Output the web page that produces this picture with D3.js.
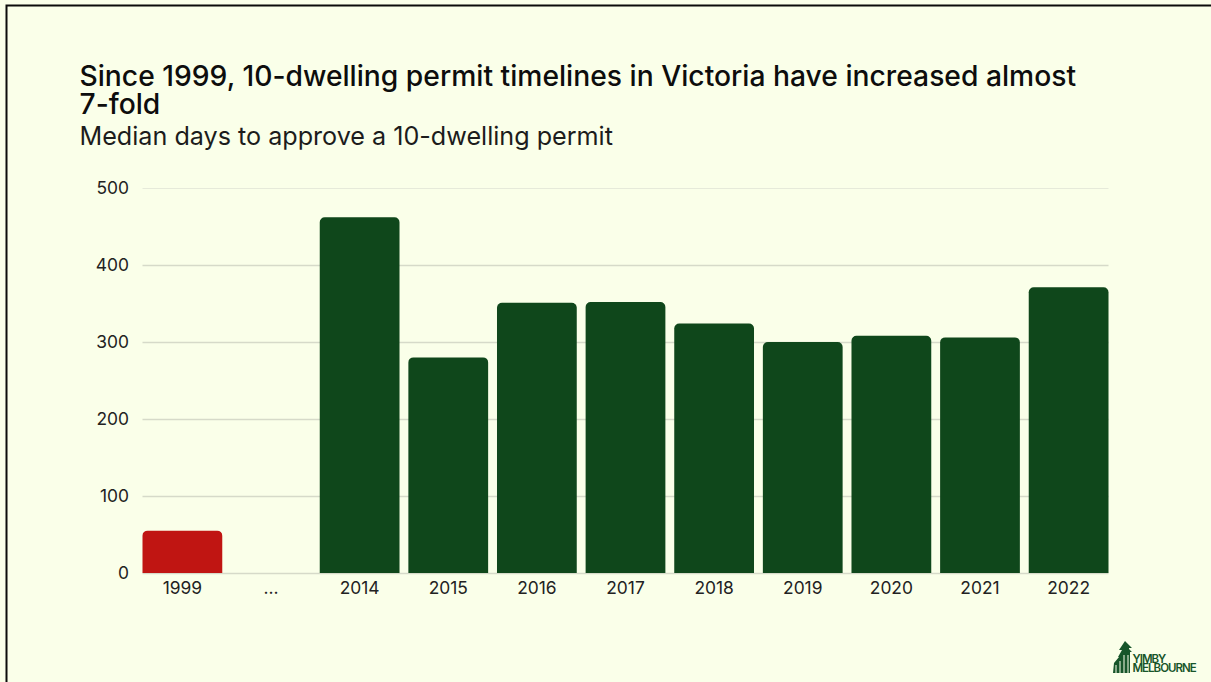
<!DOCTYPE html>
<html>
<head>
<meta charset="utf-8">
<script src="https://cdn.jsdelivr.net/npm/d3@7"></script>
<style>
html,body{margin:0;padding:0;background:#faffe9;overflow:hidden}
svg{display:block}
text{font-family:Inter,"Noto Sans",sans-serif}
</style>
</head>
<body>
<svg id="chart" width="1211" height="682"></svg>
<script>
const years = ["1999", "…", "2014", "2015", "2016", "2017", "2018", "2019", "2020", "2021", "2022"];
const medianDays = [55, null, 462, 280, 351, 352, 324, 300, 308, 306, 371];
const barColors = ["#c01512", null, "#0f471b", "#0f471b", "#0f471b", "#0f471b", "#0f471b", "#0f471b", "#0f471b", "#0f471b", "#0f471b"];
const yTicks = [0, 100, 200, 300, 400, 500];
const titleLines = ["Since 1999, 10-dwelling permit timelines in Victoria have increased almost", "7-fold"];
const subtitle = "Median days to approve a 10-dwelling permit";

const svg = d3.select("#chart");
const bounds = {left: 142.5, right: 1108.5, top: 188, bottom: 573};

const x = d3.scaleBand().domain(years).range([bounds.left, bounds.right]).paddingInner(0.1).paddingOuter(0);
const y = d3.scaleLinear().domain([0, 500]).range([bounds.bottom, bounds.top]);

// Page frame: only the top and left edges fall inside the canvas
svg.append("path")
  .attr("d", "M6.5,682V5.5H1211")
  .attr("fill", "none").attr("stroke", "#0b0b0b").attr("stroke-width", 2);

// Heading
svg.selectAll("text.title").data(titleLines).join("text")
  .attr("class", "title")
  .attr("x", 79.5).attr("y", (d, i) => 86 + i * 28)
  .attr("font-size", 28.25).attr("font-weight", 450).attr("fill", "#0d0d0d")
  .text(d => d);
svg.append("text")
  .attr("x", 79.5).attr("y", 145)
  .attr("font-size", 25.15).attr("fill", "#1c1c1c")
  .text(subtitle);

// Value axis with full-width gridlines
const yAxis = svg.append("g")
  .attr("transform", `translate(${bounds.left},0)`)
  .call(d3.axisLeft(y).tickValues(yTicks).tickSize(0).tickPadding(13.5));
yAxis.select(".domain").remove();
yAxis.selectAll("text")
  .attr("font-size", 17.4).attr("fill", "#222").style("font-family", "Inter");
yAxis.selectAll(".tick line")
  .attr("x2", bounds.right - bounds.left)
  .attr("stroke", d => d === 500 ? "#e6eada" : "#d6dac9")
  .attr("stroke-width", d => d === 500 ? 1 : 1.6);

// Bars with rounded top corners and a square base
const radius = 5;
svg.selectAll("path.bar")
  .data(years.map((year, i) => ({year, value: medianDays[i], color: barColors[i]})).filter(d => d.value !== null))
  .join("path")
  .attr("class", "bar")
  .attr("fill", d => d.color)
  .attr("d", d => {
    const p = d3.path();
    const x0 = x(d.year), x1 = x0 + x.bandwidth(), top = y(d.value), base = y(0);
    p.moveTo(x0, base);
    p.lineTo(x0, top + radius);
    p.arcTo(x0, top, x0 + radius, top, radius);
    p.lineTo(x1 - radius, top);
    p.arcTo(x1, top, x1, top + radius, radius);
    p.lineTo(x1, base);
    p.closePath();
    return p.toString();
  });

// Category axis
const xAxis = svg.append("g")
  .attr("transform", `translate(0,${bounds.bottom})`)
  .call(d3.axisBottom(x).tickSize(0).tickPadding(9));
xAxis.select(".domain").remove();
xAxis.selectAll("text")
  .attr("font-size", 17.4).attr("fill", "#222").style("font-family", "Inter");

// Organisation mark in the lower-right corner
const logo = svg.append("g").attr("transform", "translate(1113,641)").attr("fill", "#17552a");
logo.append("path").attr("d",
  "M12,0L19,7H16V8L19,11H17V32H0L1,22L6,16H5L9,9H6Z");
logo.append("path").attr("d", "M3,24V32M7,20V32M11,14V32M15,14V32").attr("stroke", "#faffe9").attr("stroke-width", 1);
logo.append("text").attr("x", 19.5).attr("y", 22).attr("font-size", 11.5).attr("font-weight", 600)
  .attr("letter-spacing", -1).style("font-family", "Inter").text("YIMBY");
logo.append("text").attr("x", 19.5).attr("y", 31).attr("font-size", 11.5).attr("font-weight", 600)
  .attr("letter-spacing", -1).style("font-family", "Inter").text("MELBOURNE");
</script>
</body>
</html>
